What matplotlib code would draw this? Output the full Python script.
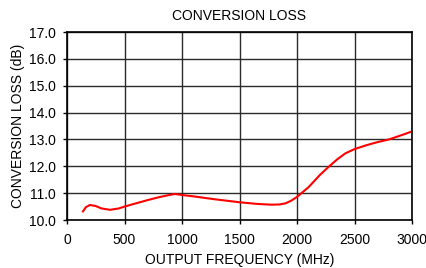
import matplotlib
matplotlib.use("Agg")
import matplotlib.pyplot as plt

plt.rcParams["font.family"] = ["Liberation Sans", "DejaVu Sans"]

# data
freq_mhz = [139, 165, 200, 250, 300, 374, 450, 500, 600, 700, 800, 900, 940,
            1000, 1100, 1270, 1500, 1650, 1777, 1850, 1900, 1950, 2000,
            2100, 2200, 2270, 2350, 2420, 2500, 2600, 2700, 2800, 2937, 3000]
loss_db = [10.32, 10.48, 10.56, 10.52, 10.43, 10.38, 10.43, 10.50, 10.62,
           10.74, 10.85, 10.94, 10.97, 10.93, 10.88, 10.78, 10.66, 10.60,
           10.57, 10.58, 10.62, 10.72, 10.86, 11.22, 11.68, 11.96, 12.26,
           12.48, 12.64, 12.78, 12.90, 13.00, 13.20, 13.30]

xticks = [0, 500, 1000, 1500, 2000, 2500, 3000]
yticks = [10.0, 11.0, 12.0, 13.0, 14.0, 15.0, 16.0, 17.0]

fig = plt.figure(figsize=(4.26, 2.68), dpi=100)
ax = fig.add_axes([67 / 426, 1 - 220 / 268, 345 / 426, 188 / 268])

ax.plot(freq_mhz, loss_db, color="#ff0000", lw=1.5)

ax.set_xlim(0, 3000)
ax.set_ylim(10, 17)
ax.set_xticks(xticks)
ax.set_yticks(yticks)
ax.set_yticklabels([f"{v:.1f}" for v in yticks])
ax.grid(True, color="#2a2a2a", lw=1.0)
ax.set_axisbelow(True)
for s in ax.spines.values():
    s.set_color("black")
    s.set_linewidth(1.2)
ax.tick_params(direction="out", length=3, width=1, labelsize=10)
ax.tick_params(axis="x", pad=6)
ax.tick_params(axis="y", pad=5)

ax.set_title("CONVERSION LOSS", fontsize=10, pad=9)
ax.set_xlabel("OUTPUT FREQUENCY (MHz)", fontsize=10, labelpad=4.5)
ax.set_ylabel("CONVERSION LOSS (dB)", fontsize=10, labelpad=3)

plt.savefig("out.png", dpi=100)
plt.close()
